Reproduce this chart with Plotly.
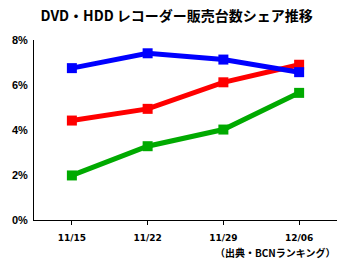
import plotly.graph_objects as go

dates = ["11/15", "11/22", "11/29", "12/06"]
blue_vals = [6.75, 7.41, 7.13, 6.57]
red_vals = [4.42, 4.94, 6.12, 6.90]
green_vals = [1.98, 3.28, 4.02, 5.65]
y_ticks = [0, 2, 4, 6, 8]
y_tick_labels = ["0%", "2%", "4%", "6%", "8%"]
title = "DVD・HDD レコーダー販売台数シェア推移"
source = "（出典・BCNランキング）"

fig = go.Figure()
for vals, col in [(green_vals, "#00AA00"), (red_vals, "#FF0000"), (blue_vals, "#0000FF")]:
    fig.add_trace(go.Scatter(
        x=list(range(len(dates))), y=vals, mode="lines+markers",
        line=dict(color=col, width=5),
        marker=dict(symbol="square", size=10, color=col),
        showlegend=False, hoverinfo="skip"))

fig.update_layout(
    width=350, height=260,
    margin=dict(l=34, r=13, t=40, b=40),
    paper_bgcolor="white", plot_bgcolor="white",
    title=dict(text="<b>" + title + "</b>", x=0.505, xanchor="center", y=0.94, yanchor="middle",
               font=dict(family="Noto Sans CJK JP", size=14, color="black")),
    xaxis=dict(range=[-0.5, 3.5], tickvals=list(range(len(dates))), ticktext=dates,
               showgrid=False, zeroline=False, showline=True, linecolor="black", linewidth=1,
               ticks="outside", ticklen=4, tickcolor="black", ticklabelstandoff=5,
               tickfont=dict(family="DejaVu Sans", size=9, color="black", weight="bold")),
    yaxis=dict(range=[0, 8], tickvals=y_ticks, ticktext=y_tick_labels,
               showgrid=False, zeroline=False, showline=True, linecolor="black", linewidth=1,
               ticks="", ticklabelstandoff=3,
               tickfont=dict(family="Liberation Sans", size=11, color="black", weight="bold")),
)
fig.add_annotation(text="<b>" + source + "</b>", xref="paper", yref="paper", x=1.0, y=-0.18,
                   xanchor="right", yanchor="middle", showarrow=False, borderpad=0,
                   font=dict(family="Noto Sans CJK JP", size=10, color="black"))
fig.write_html("out.html")
